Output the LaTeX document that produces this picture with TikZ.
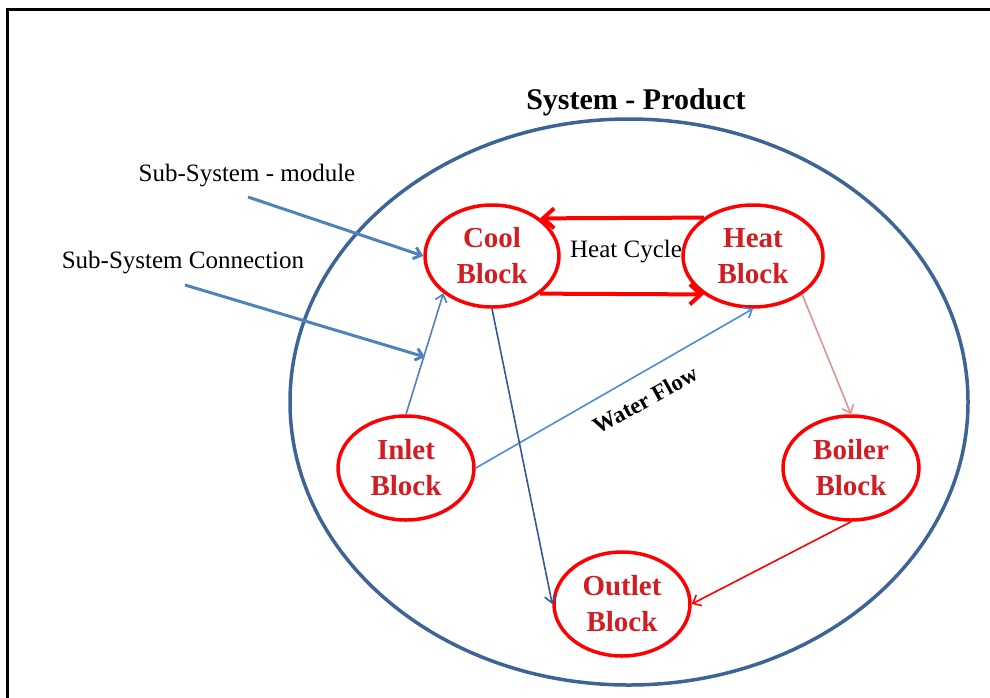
\documentclass[tikz,border=0pt]{standalone}
\usepackage{fontspec}
\setmainfont{Liberation Serif}
\usetikzlibrary{arrows.meta,shapes.geometric,positioning}

\definecolor{sysblue}{RGB}{60,100,150}
\definecolor{subblue}{RGB}{79,129,189}
\definecolor{flowblue}{RGB}{74,140,215}
\definecolor{deepblue}{RGB}{50,90,150}
\definecolor{lightred}{RGB}{217,150,148}
\definecolor{labelred}{RGB}{210,30,35}

\begin{document}
\begin{tikzpicture}[x=1pt, y=-1pt, >={Straight Barb[length=7pt,width=12pt]},
  block/.style={ellipse, draw=red, line width=3.5pt, text=labelred, align=center,
    inner sep=0pt, minimum width=136pt, minimum height=104pt,
    font=\fontsize{29}{36}\selectfont\bfseries},
  caption/.style={font=\fontsize{25}{30}\selectfont, text=black},
  flow/.style={->, line width=1.6pt},
  cycle/.style={->, red, line width=4pt, >={Straight Barb[length=11pt,width=20pt]}}]
\path[use as bounding box] (0,0) rectangle (990,697);
% frame and system boundary
\draw[line width=3pt] (7,710) -- (7,9) -- (1000,9);
\draw[sysblue, line width=3.5pt] (629,402) ellipse [x radius=339, y radius=283];
\node[font=\fontsize{30}{36}\selectfont\bfseries] (sys) at (636,102) {System - Product};

\node[block, minimum width=134pt, minimum height=102pt] (cool) at (492,256) {Cool\\Block};
\node[block, minimum width=140pt, minimum height=102pt] (heat) at (753,256) {Heat\\Block};
\node[block] (inlet) at (406,468) {Inlet\\Block};
\node[block] (boiler) at (851,468) {Boiler\\Block};
\node[block] (outlet) at (622,604) {Outlet\\Block};

\node[caption] (module) at (247,176) {Sub-System - module};
\node[caption] (connection) at (183,263) {Sub-System Connection};
\node[caption] (hc) at (626,252) {Heat Cycle};
\node[font=\fontsize{23}{27}\selectfont\bfseries, rotate=29] (wf) at (645,400) {Water Flow};

\coordinate (moduleA) at (248,197);
\coordinate (connA) at (185,285);
\coordinate (connB) at (425,357);
\draw[flow, subblue, line width=3pt] (moduleA) -- (cool.west);
\draw[flow, subblue, line width=3pt] (connA) -- (connB);

\draw[cycle] (heat.142) -- (cool.38);
\draw[cycle] (cool.-38) -- (heat.-142);

\draw[flow, subblue] (inlet.north) -- (cool.south west);
\draw[flow, flowblue] (inlet.east) -- (heat.south);
\draw[flow, deepblue] (cool.south) -- (outlet.west);
\draw[flow, lightred] (heat.-38) -- (boiler.north);
\draw[flow, red] (boiler.south) -- (outlet.east);
\end{tikzpicture}
\end{document}
